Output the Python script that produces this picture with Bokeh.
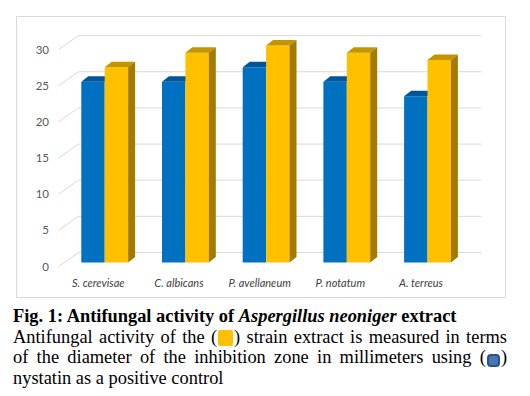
import numpy as np
from bokeh.plotting import figure
from bokeh.models import Range1d, Div
from bokeh.layouts import column
from bokeh.core.properties import value
from bokeh.embed import file_html
from bokeh.resources import INLINE

# ---- data ----
categories = ["S. cerevisae", "C. albicans", "P. avellaneum", "P. notatum", "A. terreus"]
nystatin = [25, 25, 27, 25, 23]      # blue, positive control
extract = [27, 29, 30, 29, 28]       # yellow, strain extract
y_ticks = [0, 5, 10, 15, 20, 25, 30]

caption_title = "Fig. 1: Antifungal activity of "
caption_species = "Aspergillus neoniger"
caption_title_end = " extract"
caption_line1a = "Antifungal activity of the ("
caption_line1b = ") strain extract is measured in terms"
caption_line2a = "of the diameter of the inhibition zone in millimeters using ("
caption_line2b = ")"
caption_line3 = "nystatin as a positive control"

# ---- styles ----
BLUE, BLUE_TOP = "#0070C0", "#00569A"
YEL, YEL_TOP, YEL_SIDE = "#FFC000", "#C49500", "#A47A00"
GRID = "#D9D9D9"

px_x = 80.7   # pixels per category unit
px_y = 7.23   # pixels per value unit
dxu = 7 / px_x     # 3D depth of bars
dyu = 5.5 / px_y
back_dy = 10 / px_y      # back wall offset from bar plane
front_dy = -4 / px_y     # tick plane offset

x = np.arange(len(categories), dtype=float)
bw = 0.29
xb = x - bw / 2
xy = x + bw / 2

p = figure(width=513, height=306, output_backend="svg", toolbar_location=None,
           x_axis_location=None, y_axis_location=None,
           x_range=Range1d((16 - 104.2) / px_x, (505 - 104.2) / px_x),
           y_range=Range1d(-(297 - 262) / px_y, (262 - 16) / px_y),
           min_border_left=16, min_border_right=8, min_border_top=16, min_border_bottom=9,
           outline_line_color=GRID, background_fill_color="white", border_fill_color="white")
p.grid.visible = False

yt = np.array(y_ticks, dtype=float)
gx0, gx1 = (78 - 104.2) / px_x, (481 - 104.2) / px_x
fx0 = (58 - 104.2) / px_x
# back wall gridlines
p.segment(x0=[gx0] * len(yt), x1=[gx1] * len(yt), y0=yt + back_dy, y1=yt + back_dy,
          line_color=GRID, line_width=1)
# side wall diagonals
p.segment(x0=[fx0] * len(yt), x1=[gx0] * len(yt), y0=yt + front_dy, y1=yt + back_dy,
          line_color=GRID, line_width=1)
# tick labels
p.text(x=[(48.5 - 104.2) / px_x] * len(yt), y=yt + front_dy, text=[str(t) for t in y_ticks],
       text_align="right", text_baseline="middle", text_color="#595959",
       text_font=value("Lato"), text_font_size="11.5px")

def bar3d(xc, vals, front, top, side):
    vals = np.array(vals, dtype=float)
    x0 = xc - bw / 2
    x1 = xc + bw / 2
    p.vbar(x=xc, width=bw, top=vals, bottom=0, fill_color=front, line_color=None)
    p.patches(xs=[[a, a + dxu, b + dxu, b] for a, b in zip(x0, x1)],
              ys=[[v, v + dyu, v + dyu, v] for v in vals],
              fill_color=top, line_color=None)
    if side is not None:
        p.patches(xs=[[b, b + dxu, b + dxu, b] for b in x1],
                  ys=[[0, dyu, v + dyu, v] for v in vals],
                  fill_color=side, line_color=None)

bar3d(xb, nystatin, BLUE, BLUE_TOP, None)
bar3d(xy, extract, YEL, YEL_TOP, YEL_SIDE)

# category labels
p.text(x=x - 0.08, y=[-20 / px_y] * len(x), text=categories, text_align="center",
       text_baseline="middle", text_color="#404040", text_font=value("Lato"),
       text_font_style="italic", text_font_size="11px")

box_y = ('<span style="display:inline-block;width:15px;height:16px;background:#FFC000;'
         'border-radius:2px;vertical-align:-3px;margin:0 1px"></span>')
box_b = ('<span style="display:inline-block;width:13px;height:13px;background:#4A74B4;'
         'border:2.5px solid #2E4F85;border-radius:4px;vertical-align:-4px;margin:0 1px"></span>')
jst = "text-align:justify;text-align-last:justify;"
html = (
    '<div style="font-family:\'Liberation Serif\',serif;font-size:18.4px;line-height:20.5px;'
    'color:#000;width:494px">'
    f'<div style="font-weight:bold">{caption_title}<i>{caption_species}</i>{caption_title_end}</div>'
    f'<div style="{jst}">{caption_line1a}{box_y}{caption_line1b}</div>'
    f'<div style="{jst}">{caption_line2a}{box_b}{caption_line2b}</div>'
    f'<div>{caption_line3}</div>'
    '</div>'
)
div = Div(text=html, width=494, margin=(0, 0, 0, 13))

layout = column(p, div, spacing=0)
open("out.html", "w").write(file_html(layout, INLINE))
